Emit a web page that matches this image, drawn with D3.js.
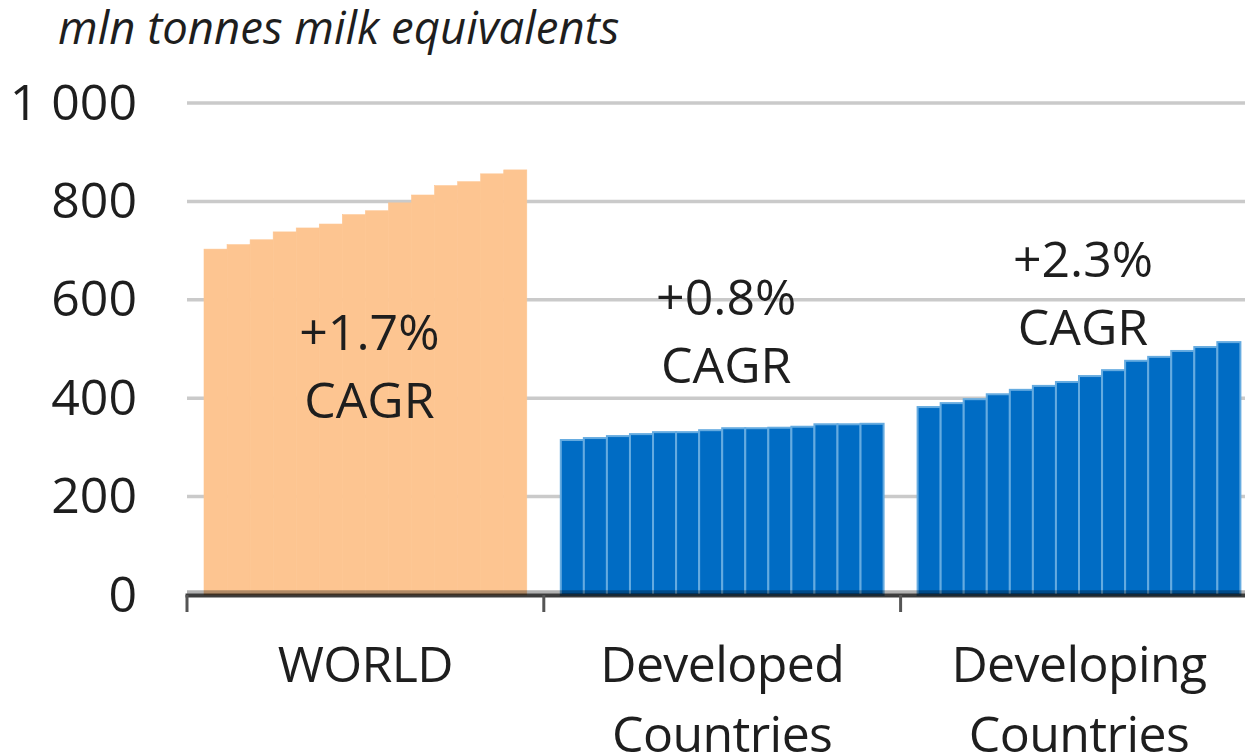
<!DOCTYPE html>
<html>
<head>
<meta charset="utf-8">
<script src="https://cdn.jsdelivr.net/npm/d3@7"></script>
<style>
  body { margin: 0; background: #fff; }
  svg text { font-family: "Open Sans", sans-serif; fill: #1e1e1e; }
</style>
</head>
<body>
<svg id="chart" width="1245" height="755"></svg>
<script>
// data ----------------------------------
const groups = ['WORLD', 'Developed Countries', 'Developing Countries'];
const groupLines = [['WORLD'], ['Developed', 'Countries'], ['Developing', 'Countries']];
const years = ['2011', '2012', '2013', '2014', '2015', '2016', '2017', '2018', '2019', '2020', '2021', '2022', '2023', '2024'];
const world = [703, 712, 722, 738, 746, 754, 773, 781, 797, 813, 832, 840, 856, 864];
const developed = [315, 319, 323, 327, 331, 331, 335, 339, 339, 340, 342, 347, 347, 348];
const developing = [382, 390, 398, 408, 417, 425, 433, 445, 457, 476, 484, 496, 504, 514];
const cagr = ['+1.7%', '+0.8%', '+2.3%'];
const yTicks = [0, 200, 400, 600, 800, 1000];
const unitLabel = 'mln tonnes milk equivalents';
// ---------------------------------------

const series = [world, developed, developing];
const fills = ['#fdc591', '#006cc4', '#006cc4'];
const seps = ['#fdc591', '#65abe0', '#65abe0'];
const cagrBaseline = [350, 315, 277]; // first line of each CAGR note

const svg = d3.select('#chart');
const left = 187;
const step = 356.8;

const x0 = d3.scaleBand().domain(groups).range([left, left + step * groups.length]);
const x1 = d3.scaleBand().domain(years).range([17, x0.bandwidth() - 17]);
const y = d3.scaleLinear().domain([0, 1000]).range([595, 103]);

const fmt = d3.formatLocale({ decimal: '.', thousands: ' ', grouping: [3], currency: ['', ''] }).format(',');

// grid
svg.append('g').attr('class', 'grid')
  .selectAll('line').data(yTicks.filter(d => d > 0)).join('line')
  .attr('x1', left).attr('x2', 1245)
  .attr('y1', d => y(d)).attr('y2', d => y(d))
  .attr('stroke', '#cacaca').attr('stroke-width', 3.5);

// y labels
const yAxis = d3.axisLeft(y).tickValues(yTicks).tickSize(0).tickPadding(0).tickFormat(fmt);
const gy = svg.append('g').attr('transform', 'translate(137,0)').call(yAxis);
gy.select('.domain').remove();
gy.selectAll('text')
  .attr('font-family', '"Open Sans", sans-serif')
  .attr('font-size', 50)
  .attr('dy', '0.32em')
  .attr('fill', '#1e1e1e');

// bars
groups.forEach((g, gi) => {
  svg.append('g').attr('class', 'bars')
    .attr('transform', 'translate(' + x0(g) + ',0)')
    .selectAll('rect').data(series[gi]).join('rect')
    .attr('x', (d, i) => x1(years[i]))
    .attr('width', x1.bandwidth())
    .attr('y', d => y(d))
    .attr('height', d => y(0) - y(d))
    .attr('fill', fills[gi])
    .attr('stroke', seps[gi])
    .attr('stroke-width', gi === 0 ? 0.6 : 2);
});

// baseline + axis
svg.append('line')
  .attr('x1', left).attr('x2', 1245)
  .attr('y1', y(0) - 3).attr('y2', y(0) - 3)
  .attr('stroke', 'rgba(0,0,0,0.3)').attr('stroke-width', 3.5);
svg.append('line')
  .attr('x1', left - 1.5).attr('x2', 1245)
  .attr('y1', y(0) + 0.5).attr('y2', y(0) + 0.5)
  .attr('stroke', 'rgba(0,0,0,0.76)').attr('stroke-width', 4);

// category ticks
svg.append('g').selectAll('line').data(groups).join('line')
  .attr('x1', d => x0(d)).attr('x2', d => x0(d))
  .attr('y1', y(0)).attr('y2', y(0) + 17)
  .attr('stroke', '#555').attr('stroke-width', 3);

// category labels
groups.forEach((g, gi) => {
  const t = svg.append('text')
    .attr('text-anchor', 'middle')
    .attr('font-size', 50)
    .attr('letter-spacing', -0.6)
    .attr('x', x0(g) + x0.bandwidth() / 2)
    .attr('y', 682);
  groupLines[gi].forEach((line, li) => {
    t.append('tspan').attr('x', x0(g) + x0.bandwidth() / 2).attr('dy', li === 0 ? 0 : 70).text(line);
  });
});

// CAGR notes
groups.forEach((g, gi) => {
  const cx = x0(g) + x0.bandwidth() / 2 + 4;
  const t = svg.append('text')
    .attr('text-anchor', 'middle')
    .attr('font-size', 50)
    .attr('x', cx)
    .attr('y', cagrBaseline[gi]);
  t.append('tspan').attr('x', cx).text(cagr[gi]);
  t.append('tspan').attr('x', cx).attr('dy', 68).text('CAGR');
});

// unit label
svg.append('text')
  .attr('x', 58).attr('y', 44)
  .attr('font-size', 45.5)
  .attr('font-style', 'italic')
  .text(unitLabel);
</script>
</body>
</html>
